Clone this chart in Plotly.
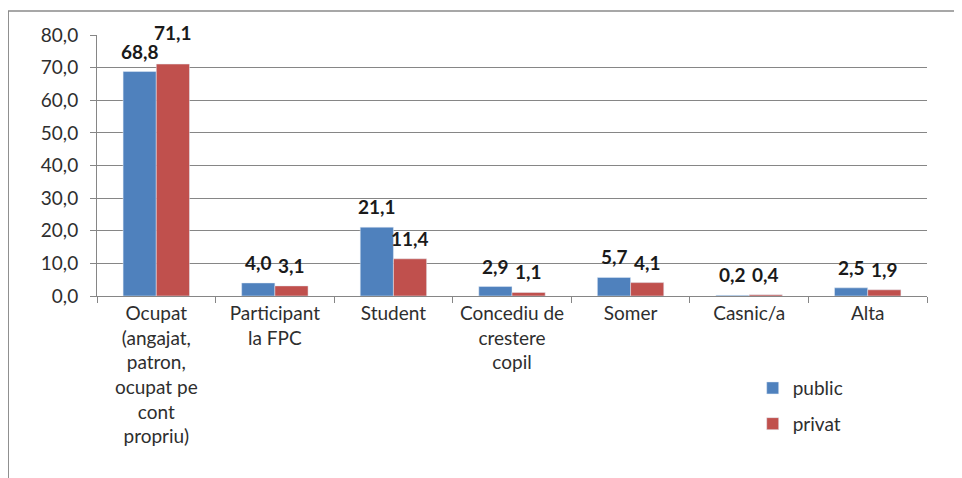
import plotly.graph_objects as go

# data
categories = [
    "Ocupat<br>(angajat,<br>patron,<br>ocupat pe<br>cont<br>propriu)",
    "Participant<br>la FPC",
    "Student",
    "Concediu de<br>crestere<br>copil",
    "Somer",
    "Casnic/a",
    "Alta",
]
public = [68.8, 4.0, 21.1, 2.9, 5.7, 0.2, 2.5]
privat = [71.1, 3.1, 11.4, 1.1, 4.1, 0.4, 1.9]
y_ticks = [0, 10, 20, 30, 40, 50, 60, 70, 80]

BLUE = "#4F81BD"
RED = "#C0504D"
FONT = "Lato, Calibri, sans-serif"

fig = go.Figure()
fig.add_trace(go.Bar(x=categories, y=public, name="public", marker_color=BLUE,
                     legendgroup="a"))
fig.add_trace(go.Bar(x=categories, y=privat, name="privat", marker_color=RED,
                     legendgroup="b"))

# value labels above the bars
for series, shift in [(public, -16.5), (privat, 16.5)]:
    for cat, v in zip(categories, series):
        extra = 11 if v == 71.1 else 0
        fig.add_annotation(
            x=cat, y=v, text=f"{v:.1f}".replace(".", ","),
            xshift=shift, yshift=7 + extra, yanchor="bottom", showarrow=False,
            font=dict(family=FONT, size=19, color="#1a1a1a", weight="bold"),
        )

# outer chart frame
fig.add_shape(type="rect", xref="paper", yref="paper",
              x0=-0.107, y0=-1.0, x1=1.2, y1=1.092,
              line=dict(color="#8a8a8a", width=1.5), layer="below")

# page body adds 8px, so margins are reduced by 8 to keep the plot in place
fig.update_layout(
    width=962, height=478,
    margin=dict(l=89, r=43, t=27, b=190),
    barmode="group", bargap=0.44, bargroupgap=0,
    plot_bgcolor="white", paper_bgcolor="white",
    separators=",.",
    font=dict(family=FONT, size=19, color="#2e2e2e"),
    legend=dict(x=0.79, y=-0.28, xanchor="left", yanchor="top",
                tracegroupgap=8, font=dict(size=19)),
    showlegend=True,
)
fig.update_yaxes(range=[0, 80], tickvals=y_ticks, tickformat=".1f",
                 showgrid=True, gridcolor="#868686", gridwidth=1,
                 showline=True, linecolor="#868686", ticks="outside",
                 ticklen=6, tickcolor="#868686", zeroline=False,
                 ticklabelstandoff=8)
fig.update_xaxes(showline=True, linecolor="#868686", ticks="outside",
                 tickson="boundaries", ticklen=6, tickcolor="#868686",
                 tickangle=0)

fig.write_html("out.html")
